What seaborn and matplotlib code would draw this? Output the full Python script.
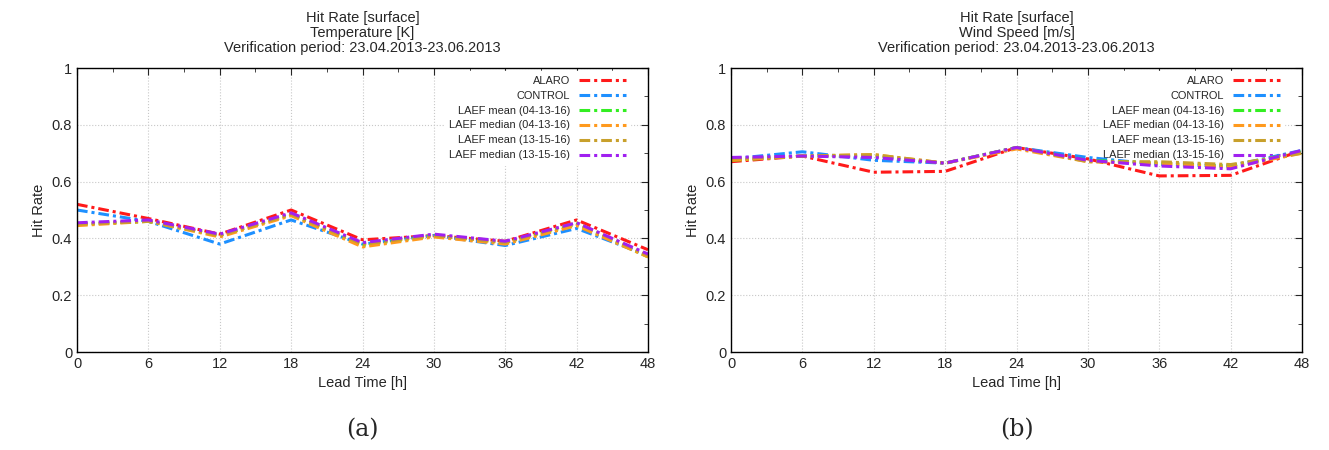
import pandas as pd
import matplotlib
matplotlib.use('Agg')
import matplotlib.pyplot as plt
import numpy as np
import seaborn as sns

lead = [0, 6, 12, 18, 24, 30, 36, 42, 48]
models = ['ALARO', 'CONTROL', 'LAEF mean (04-13-16)', 'LAEF median (04-13-16)',
          'LAEF mean (13-15-16)', 'LAEF median (13-15-16)']
colors = ['#ff1a1a', '#1e90ff', '#33ee22', '#ff9a1e', '#c8a02c', '#a020f0']

# temperature panel
t_alaro = [0.52, 0.47, 0.415, 0.50, 0.395, 0.41, 0.39, 0.465, 0.36]
t_control = [0.50, 0.46, 0.38, 0.465, 0.38, 0.41, 0.375, 0.435, 0.34]
t_mean04 = [0.45, 0.46, 0.41, 0.485, 0.375, 0.41, 0.385, 0.45, 0.335]
t_med04 = [0.445, 0.46, 0.405, 0.48, 0.37, 0.405, 0.38, 0.445, 0.335]
t_mean13 = [0.45, 0.46, 0.41, 0.485, 0.38, 0.41, 0.385, 0.455, 0.34]
t_med13 = [0.455, 0.465, 0.415, 0.49, 0.385, 0.415, 0.39, 0.455, 0.345]

# wind speed panel
w_alaro = [0.67, 0.69, 0.633, 0.636, 0.72, 0.68, 0.62, 0.622, 0.71]
w_control = [0.68, 0.705, 0.675, 0.665, 0.72, 0.685, 0.66, 0.655, 0.71]
w_mean04 = [0.675, 0.69, 0.69, 0.665, 0.72, 0.675, 0.665, 0.655, 0.705]
w_med04 = [0.675, 0.69, 0.695, 0.665, 0.715, 0.67, 0.665, 0.65, 0.70]
w_mean13 = [0.68, 0.69, 0.695, 0.665, 0.72, 0.67, 0.67, 0.66, 0.70]
w_med13 = [0.685, 0.69, 0.685, 0.665, 0.72, 0.675, 0.655, 0.645, 0.71]


def make_df(series):
    rows = []
    for name, vals in zip(models, series):
        for x, v in zip(lead, vals):
            rows.append({'Lead': x, 'Hit': v, 'Model': name})
    return pd.DataFrame(rows)


sns.set_style('white')
plt.rcParams['font.family'] = ['Liberation Sans', 'DejaVu Sans']

fig = plt.figure(figsize=(13.29, 4.5), dpi=100)
W, H = 1329, 450
ax1 = fig.add_axes([77 / W, 1 - 352 / H, 571 / W, 284 / H])
ax2 = fig.add_axes([731 / W, 1 - 352 / H, 571 / W, 284 / H])

panels = [
    (ax1, [t_alaro, t_control, t_mean04, t_med04, t_mean13, t_med13], 'Temperature [K]', '(a)'),
    (ax2, [w_alaro, w_control, w_mean04, w_med04, w_mean13, w_med13], 'Wind Speed [m/s]', '(b)'),
]

for ax, series, var, tag in panels:
    df = make_df(series)
    sns.lineplot(data=df, x='Lead', y='Hit', hue='Model', palette=colors,
                 hue_order=models, ax=ax, linewidth=2.2, legend=False)
    for ln in ax.get_lines():
        ln.set_linestyle((0, (3.5, 1.3, 1, 1.3)))
        ln.set_zorder(3)
    ax.set_xlim(0, 48)
    ax.set_ylim(0, 1)
    ax.set_xticks(lead)
    ax.set_xticks(np.arange(0, 49, 3), minor=True)
    ax.set_yticks([0, 0.2, 0.4, 0.6, 0.8, 1])
    ax.set_yticklabels(['0', '0.2', '0.4', '0.6', '0.8', '1'])
    ax.set_yticks(np.arange(0, 1.01, 0.1), minor=True)
    ax.tick_params(which='both', direction='in', top=True, right=True, labelsize=10.5)
    ax.tick_params(which='major', length=5)
    ax.tick_params(which='minor', length=3)
    ax.grid(True, which='major', color='#c8c8c8', linestyle=':', linewidth=0.8)
    for s in ax.spines.values():
        s.set_color('black')
        s.set_linewidth(1.0)
        s.set_zorder(4)
    ax.set_xlabel('Lead Time [h]', fontsize=10.5)
    ax.set_ylabel('Hit Rate', fontsize=10.5)
    pos = ax.get_position()
    fig.text((pos.x0 + pos.x1) / 2, 1 - 11 / H,
             'Hit Rate [surface]\n' + var + '\nVerification period: 23.04.2013-23.06.2013',
             fontsize=10.5, linespacing=1.08, ha='center', va='top', multialignment='center')
    handles = ax.get_lines()
    leg = ax.legend(handles, models, loc='upper right', markerfirst=False, frameon=True,
                    fontsize=7.9, handlelength=4.3, handletextpad=0.8, labelspacing=0.45,
                    borderaxespad=0.3, bbox_to_anchor=(0.975, 1.0))
    leg.get_frame().set_edgecolor('white')
    leg.get_frame().set_facecolor('white')
    leg.get_frame().set_alpha(1.0)
    leg.set_zorder(2.5)
    for t in leg.get_texts():
        t.set_ha('right')
    leg._legend_box.align = 'right'
    ax.text(0.5, -0.275, tag, transform=ax.transAxes, ha='center', va='center',
            fontsize=17, family='DejaVu Serif')

fig.savefig('out.png', dpi=100)
